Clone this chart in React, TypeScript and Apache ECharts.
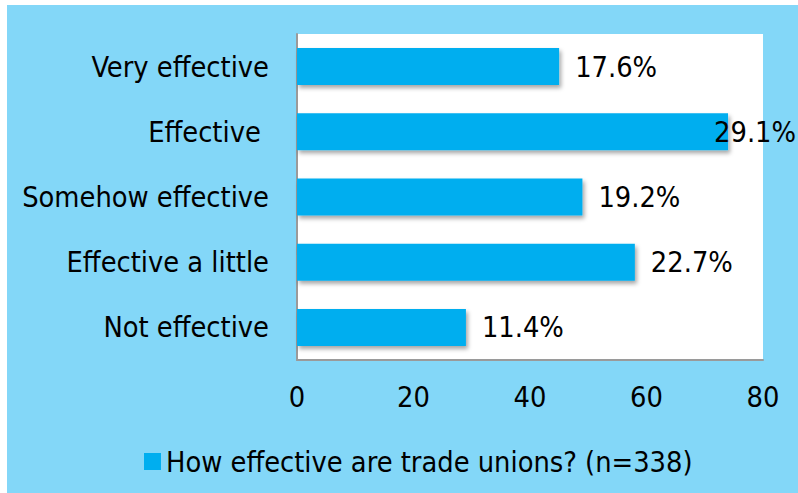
import React, { useEffect, useRef } from "react";
import * as echarts from "echarts";

const categories = ["Very effective", "Effective ", "Somehow effective", "Effective a little", "Not effective"];
const counts = [45, 74, 49, 58, 29];
const percentLabels = ["17.6%", "29.1%", "19.2%", "22.7%", "11.4%"];
const xTicks = [0, 20, 40, 60, 80];
const seriesName = "How effective are trade unions? (n=338)";

const FONT = "'DejaVu Sans Condensed', 'DejaVu Sans', sans-serif";
const FS = 28.7;

export default function App() {
  const ref = useRef<HTMLDivElement>(null);
  useEffect(() => {
    if (!ref.current) return;
    const chart = echarts.init(ref.current, undefined, { renderer: "svg" });
    chart.setOption({
      animation: false,
      backgroundColor: "#ffffff",
      textStyle: { fontFamily: FONT },
      graphic: [
        {
          type: "rect",
          z: -10,
          silent: true,
          shape: { x: 7, y: 5, width: 791, height: 488 },
          style: { fill: "#83D7F8" },
        },
      ],
      grid: {
        left: 297,
        top: 34,
        width: 466,
        height: 326,
        show: true,
        backgroundColor: "#ffffff",
        borderWidth: 0,
      },
      legend: {
        left: 139,
        top: 442,
        icon: "rect",
        itemWidth: 17,
        itemHeight: 17,
        itemGap: 7,
        textStyle: { fontFamily: FONT, fontSize: FS, color: "#000" },
        data: [seriesName],
      },
      xAxis: {
        type: "value",
        min: xTicks[0],
        max: xTicks[xTicks.length - 1],
        interval: xTicks[1] - xTicks[0],
        axisLine: { show: true, lineStyle: { color: "#9a9a9a", width: 2 } },
        axisTick: { show: false },
        splitLine: { show: false },
        axisLabel: { fontFamily: FONT, fontSize: FS, color: "#000", margin: 22 },
      },
      yAxis: {
        type: "category",
        inverse: true,
        data: categories,
        axisLine: { show: true, lineStyle: { color: "#9a9a9a", width: 2 } },
        axisTick: { show: false },
        axisLabel: { fontFamily: FONT, fontSize: FS, color: "#000", margin: 28 },
      },
      series: [
        {
          name: seriesName,
          type: "bar",
          barWidth: 37,
          itemStyle: {
            color: "#00AEEF",
            shadowBlur: 4,
            shadowOffsetX: 2,
            shadowOffsetY: 3,
            shadowColor: "rgba(0,0,0,0.35)",
          },
          label: {
            show: true,
            position: "right",
            distance: 16,
            fontFamily: FONT,
            fontSize: FS,
            color: "#000",
            formatter: (p: any) => percentLabels[p.dataIndex],
          },
          data: counts.map((v, i) =>
            i === 1 ? { value: v, label: { offset: [-30, 0] } } : v
          ),
        },
      ],
    });
    return () => chart.dispose();
  }, []);
  return (
    <div
      ref={ref}
      style={{ position: "absolute", left: 0, top: 0, width: 798, height: 493 }}
    />
  );
}
